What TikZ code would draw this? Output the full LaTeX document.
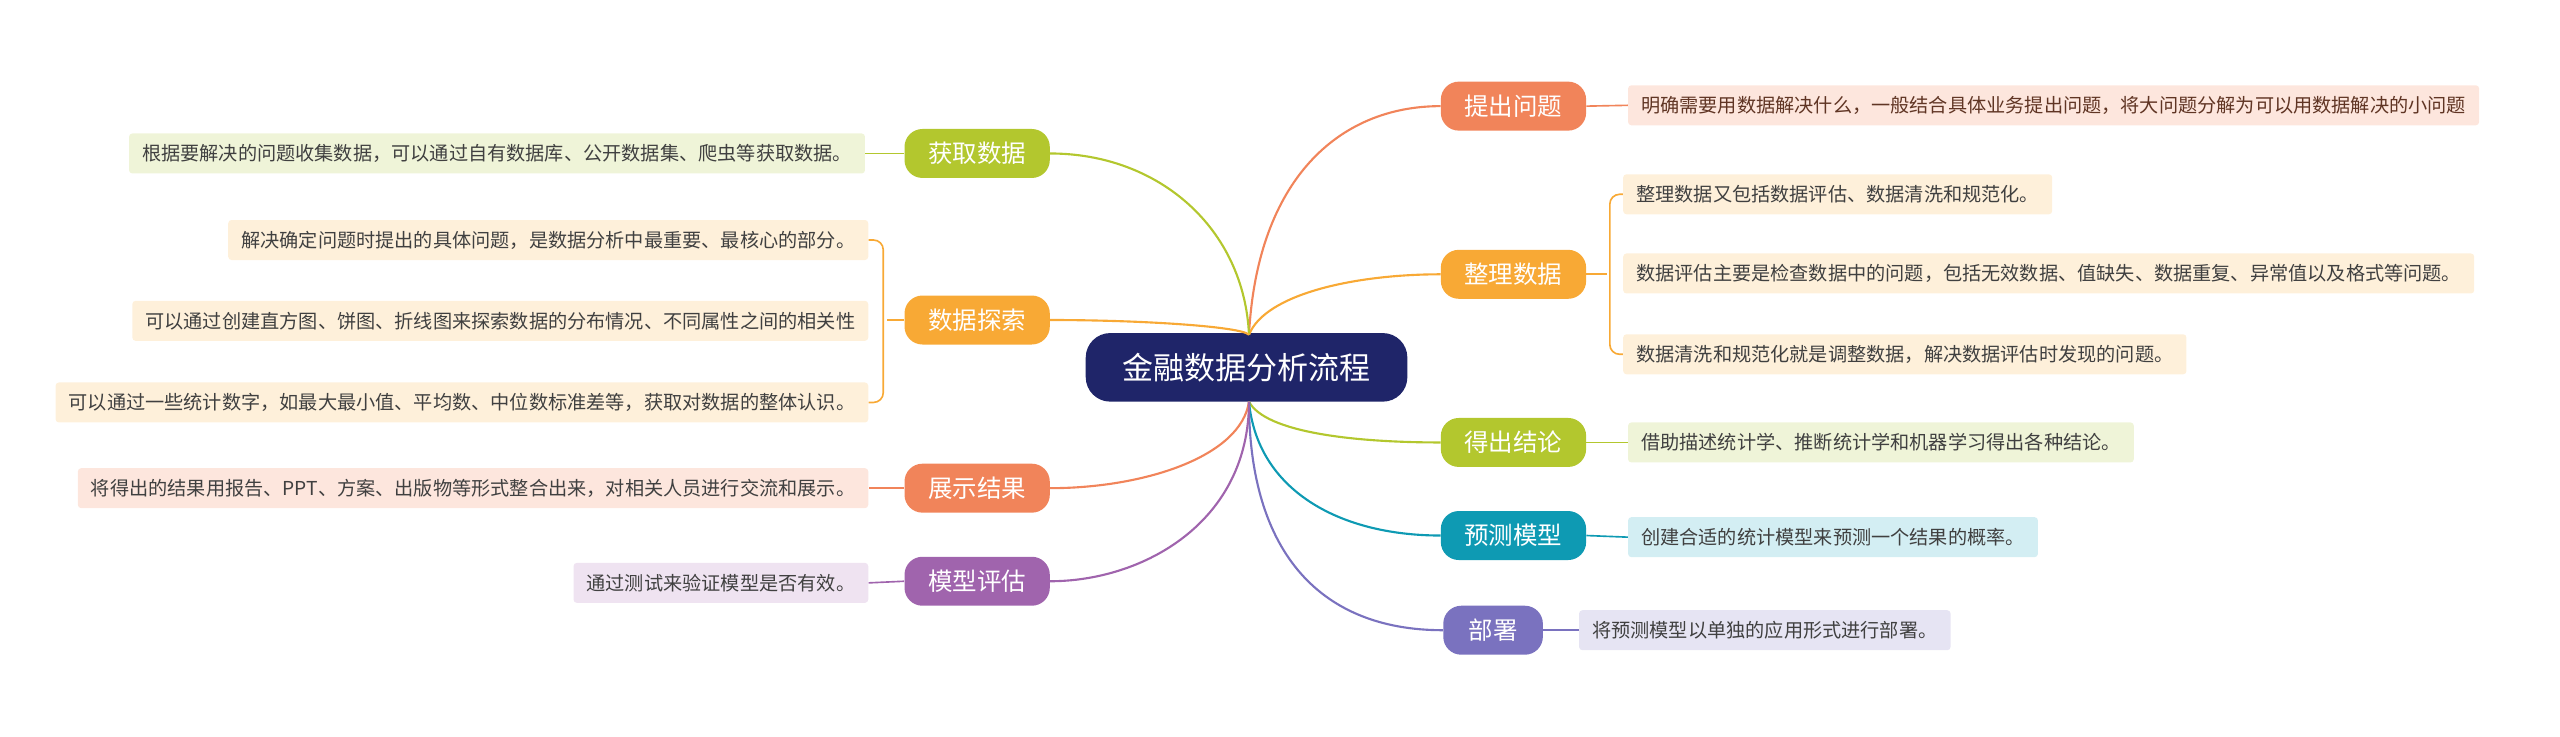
\documentclass[tikz,border=0pt]{standalone}
\usepackage{fontspec}
\setmainfont{Noto Sans CJK SC}
\begin{document}
\begin{tikzpicture}[x=1pt,y=-1pt,
 topic/.style={rounded corners=11pt,minimum height=30pt,minimum width=89pt,inner sep=0pt,text=white,font=\fontsize{15}{15}\selectfont},
 leaf/.style={rounded corners=2pt,minimum height=24.5pt,inner xsep=8pt,inner ysep=0pt,text=black!75,font=\fontsize{11.75}{12}\selectfont},
 conn/.style={line width=1.3pt},
 lconn/.style={line width=1pt}]
\definecolor{cO}{HTML}{F1845A}\definecolor{cOl}{HTML}{FDE6DD}
\definecolor{cY}{HTML}{F8A935}\definecolor{cYl}{HTML}{FEF0DA}
\definecolor{cG}{HTML}{B3C72E}\definecolor{cGl}{HTML}{EFF4D8}
\definecolor{cT}{HTML}{0E9AB3}\definecolor{cTl}{HTML}{D3EEF3}
\definecolor{cP}{HTML}{7A72BF}\definecolor{cPl}{HTML}{E6E4F3}
\definecolor{cM}{HTML}{A064AD}\definecolor{cMl}{HTML}{EFE3F1}
\definecolor{navy}{HTML}{1F2569}
\useasboundingbox (0,0) rectangle (1568,451);
\node[fill=navy,text=white,rounded corners=15pt,minimum width=197pt,minimum height=42pt,font=\fontsize{19}{19}\selectfont] (c) at (763.5,225) {金融数据分析流程};
\coordinate (ct) at (765,205); \coordinate (cb) at (765,246);
% right topics
\node[topic,fill=cO] (t1) at (927,65) {提出问题};
\node[topic,fill=cY] (t2) at (927,168) {整理数据};
\node[topic,fill=cG] (t3) at (927,271) {得出结论};
\node[topic,fill=cT] (t4) at (927,328) {预测模型};
\node[topic,fill=cP,minimum width=61pt] (t5) at (914.5,386) {部署};
% left topics
\node[topic,fill=cG] (l1) at (598.5,94) {获取数据};
\node[topic,fill=cY] (l2) at (598.5,196) {数据探索};
\node[topic,fill=cO] (l3) at (598.5,299) {展示结果};
\node[topic,fill=cM] (l4) at (598.5,356) {模型评估};
% connectors
\draw[conn,cO] (ct) .. controls (770,110) and (820,65) .. (t1.west);
\draw[conn,cY] (ct) .. controls (775,180) and (830,168) .. (t2.west);
\draw[conn,cG] (cb) .. controls (775,265) and (830,271) .. (t3.west);
\draw[conn,cT] (cb) .. controls (770,300) and (820,328) .. (t4.west);
\draw[conn,cP] (cb) .. controls (765,340) and (810,386) .. (t5.west);
\draw[conn,cG] (ct) .. controls (762,140) and (710,94) .. (l1.east);
\draw[conn,cY] (ct) .. controls (760,200) and (700,196) .. (l2.east);
\draw[conn,cO] (cb) .. controls (760,280) and (700,299) .. (l3.east);
\draw[conn,cM] (cb) .. controls (765,320) and (700,356) .. (l4.east);
% right leaves
\node[leaf,fill=cOl,text=cO!40!black,anchor=west] (r1) at (997,64.5) {明确需要用数据解决什么，一般结合具体业务提出问题，将大问题分解为可以用数据解决的小问题};
\node[leaf,fill=cYl,anchor=west] (r2a) at (994,119) {整理数据又包括数据评估、数据清洗和规范化。};
\node[leaf,fill=cYl,anchor=west] (r2b) at (994,167.5) {数据评估主要是检查数据中的问题，包括无效数据、值缺失、数据重复、异常值以及格式等问题。};
\node[leaf,fill=cYl,anchor=west] (r2c) at (994,217) {数据清洗和规范化就是调整数据，解决数据评估时发现的问题。};
\node[leaf,fill=cGl,anchor=west] (r3) at (997,271) {借助描述统计学、推断统计学和机器学习得出各种结论。};
\node[leaf,fill=cTl,anchor=west] (r4) at (997,329) {创建合适的统计模型来预测一个结果的概率。};
\node[leaf,fill=cPl,anchor=west] (r5) at (967,386) {将预测模型以单独的应用形式进行部署。};
\draw[lconn,cO] (t1.east) -- (r1.west);
\draw[lconn,cG] (t3.east) -- (r3.west);
\draw[lconn,cT] (t4.east) -- (r4.west);
\draw[lconn,cP] (t5.east) -- (r5.west);
\coordinate (rb) at (984,168);
\draw[lconn,cY] (t2.east) -- (rb);
\draw[lconn,cY,rounded corners=6pt] (r2a.west) -- (986,119) -- (986,217) -- (r2c.west);
% left leaves
\node[leaf,fill=cGl,anchor=east] (q1) at (530,94) {根据要解决的问题收集数据，可以通过自有数据库、公开数据集、爬虫等获取数据。};
\node[leaf,fill=cYl,anchor=east] (q2a) at (532,147) {解决确定问题时提出的具体问题，是数据分析中最重要、最核心的部分。};
\node[leaf,fill=cYl,anchor=east] (q2b) at (532,196.5) {可以通过创建直方图、饼图、折线图来探索数据的分布情况、不同属性之间的相关性};
\node[leaf,fill=cYl,anchor=east] (q2c) at (532,246.5) {可以通过一些统计数字，如最大最小值、平均数、中位数标准差等，获取对数据的整体认识。};
\node[leaf,fill=cOl,anchor=east] (q3) at (532,299) {将得出的结果用报告、PPT、方案、出版物等形式整合出来，对相关人员进行交流和展示。};
\node[leaf,fill=cMl,anchor=east] (q4) at (532,357) {通过测试来验证模型是否有效。};
\draw[lconn,cG] (l1.west) -- (q1.east);
\draw[lconn,cO] (l3.west) -- (q3.east);
\draw[lconn,cM] (l4.west) -- (q4.east);
\coordinate (lb) at (543,196);
\draw[lconn,cY] (l2.west) -- (lb);
\draw[lconn,cY,rounded corners=6pt] (q2a.east) -- (541,147) -- (541,246.5) -- (q2c.east);
\end{tikzpicture}
\end{document}
